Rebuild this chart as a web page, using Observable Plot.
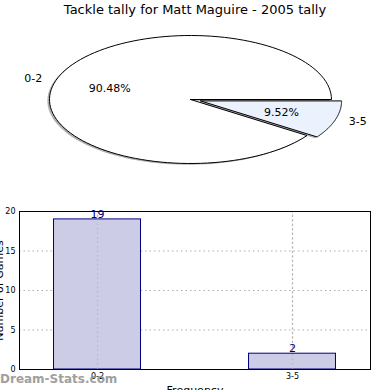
<!DOCTYPE html>
<html><head><meta charset="utf-8">
<script src="https://cdn.jsdelivr.net/npm/d3@7"></script>
<script src="https://cdn.jsdelivr.net/npm/@observablehq/plot@0.6"></script>
<style>
body{margin:0;background:#fff;font-family:"DejaVu Sans",sans-serif;}
#wrap{position:relative;width:390px;height:390px;overflow:hidden;background:#fff;}
#title{position:absolute;top:2px;left:0;width:390px;text-align:center;font-size:13px;color:#000;}
#pie{position:absolute;top:0;left:0;}
#bar{position:absolute;top:200px;left:0;}
#wm{position:absolute;left:0;top:372px;font-size:12px;color:#8f8f8f;font-weight:bold;opacity:0.85;}
</style></head>
<body><div id="wrap"><div id="pie"></div><div id="title">Tackle tally for Matt Maguire - 2005 tally</div><div id="bar"></div><div id="wm">Dream-Stats.com</div></div>
<script>
const categories = ["0-2", "3-5"];
const counts = [19, 2];
const sliceColors = ["#ffffff", "#ebf1fd"];
const explode = [0, 0.075];
const yTicks = [0, 5, 10, 15, 20];
const xLabel = "Frequency";
const yLabel = "Number of Games";

const total = d3.sum(counts);
let start = 0;
const slices = [], shadows = [], labels = [], pcts = [];
counts.forEach((v, i) => {
  const a0 = start, a1 = start + v / total * 2 * Math.PI;
  start = a1;
  const mid = (a0 + a1) / 2;
  const ox = explode[i] * Math.cos(mid), oy = explode[i] * Math.sin(mid);
  const pts = [[ox, oy]];
  const n = 120;
  for (let k = 0; k <= n; k++) {
    const a = a0 + (a1 - a0) * k / n;
    pts.push([ox + Math.cos(a), oy + Math.sin(a)]);
  }
  pts.push([ox, oy]);
  pts.forEach(p => {
    slices.push({cat: categories[i], x: p[0], y: p[1]});
    shadows.push({cat: categories[i], x: p[0] - 0.015, y: p[1] - 0.02});
  });
  const r = 1.1 + explode[i];
  labels.push({t: categories[i], x: r * Math.cos(mid), y: r * Math.sin(mid), anchor: Math.cos(mid) < 0 ? "end" : "start"});
  const rp = 0.6 + explode[i];
  pcts.push({t: (v / total * 100).toFixed(2) + "%", x: rp * Math.cos(mid), y: rp * Math.sin(mid)});
});

const pie = Plot.plot({
  width: 390, height: 200, margin: 0,
  x: {domain: [-1, 1], range: [49, 331], axis: null},
  y: {domain: [-1, 1], range: [163, 35], axis: null},
  style: {fontFamily: "DejaVu Sans, sans-serif", background: "transparent"},
  marks: [
    Plot.line(shadows, {x: "x", y: "y", z: "cat", fill: "#7a7a7a", fillOpacity: 0.6, stroke: "none", curve: "linear"}),
    Plot.line(slices, {x: "x", y: "y", z: "cat", fill: (d) => sliceColors[categories.indexOf(d.cat)], stroke: "#000", strokeWidth: 1, curve: "linear"}),
    Plot.text(labels.filter(d => d.anchor === "end"), {x: "x", y: "y", text: "t", textAnchor: "end", fontSize: 11, fill: "#000"}),
    Plot.text(labels.filter(d => d.anchor === "start"), {x: "x", y: "y", text: "t", textAnchor: "start", fontSize: 11, fill: "#000"}),
    Plot.text(pcts, {x: "x", y: "y", text: "t", fontSize: 11, fill: "#000"})
  ]
});
document.getElementById("pie").appendChild(pie);

const bars = categories.map((c, i) => ({i, c, v: counts[i]}));
const bar = Plot.plot({
  width: 390, height: 190,
  marginLeft: 19, marginRight: 20, marginTop: 11, marginBottom: 21,
  x: {domain: [-0.4, 1.4]},
  y: {domain: [0, 20]},
  style: {fontFamily: "DejaVu Sans, sans-serif", background: "transparent", overflow: "visible"},
  marks: [
    Plot.ruleY([5, 10, 15], {stroke: "#b0b0b0", strokeDasharray: "1.5,3", strokeWidth: 1.2}),
    Plot.ruleX([0, 1], {stroke: "#b0b0b0", strokeDasharray: "1.5,3", strokeWidth: 1.2}),
    Plot.rectY(bars, {x1: d => d.i - 0.223, x2: d => d.i + 0.223, y1: 0, y2: "v", fill: "#ccccE6", stroke: "#000080", strokeWidth: 1}),
    Plot.ruleX([0, 1], {y1: 0, y2: 20, stroke: "#b0b0b0", strokeDasharray: "1.5,3", strokeWidth: 1.2, strokeOpacity: 0.7}),
    Plot.text(bars, {x: "i", y: "v", text: d => String(d.v), dy: -5, fill: "#000080", fontSize: 11}),
    Plot.frame({stroke: "#000"}),
    Plot.axisY({ticks: yTicks, tickSize: 0, tickPadding: 4, fontSize: 8, label: null}),
    Plot.axisX({ticks: [0, 1], tickFormat: i => categories[i], tickSize: 0, tickPadding: 4, fontSize: 8, label: null}),
    Plot.text([yLabel], {frameAnchor: "left", textAnchor: "middle", dx: -20, rotate: -90, fontSize: 11, fill: "#000"}),
    Plot.text([xLabel], {frameAnchor: "bottom", dy: 24, fontSize: 11, fill: "#000"})
  ]
});
document.getElementById("bar").appendChild(bar);
</script></body></html>
